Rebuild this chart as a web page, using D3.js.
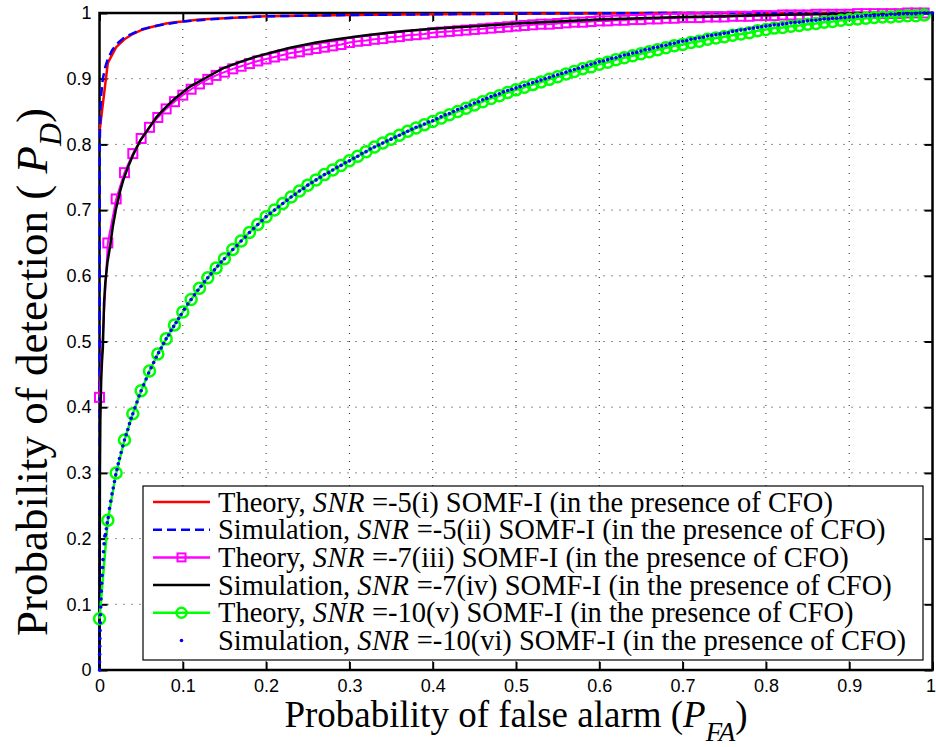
<!DOCTYPE html>
<html>
<head>
<meta charset="utf-8">
<script src="https://cdn.jsdelivr.net/npm/d3@7"></script>
<style>
  body { margin: 0; background: #fff; }
  .tick text { font-family: "Liberation Sans", Arial, sans-serif; font-size: 18px; fill: #000; }
  .lbl { font-family: "Liberation Serif", "Times New Roman", serif; fill: #000; }
</style>
</head>
<body>
<svg id="chart" width="936" height="747"></svg>
<script>
// axis ticks
const tickValues = [0, 0.1, 0.2, 0.3, 0.4, 0.5, 0.6, 0.7, 0.8, 0.9, 1];

// theory curves are evaluated on PFA = 0, 0.01, ... 0.99
const theoryPfa = d3.range(0, 100).map(i => i / 100);

// SNR = -7 theory (magenta squares)
const theory7 = [
  0.415, 0.650, 0.717, 0.757, 0.786, 0.809, 0.826, 0.841, 0.854, 0.865,
  0.875, 0.884, 0.892, 0.899, 0.905, 0.910, 0.915, 0.919, 0.923, 0.927,
  0.930, 0.933, 0.936, 0.939, 0.941, 0.944, 0.946, 0.948, 0.950, 0.952,
  0.955, 0.957, 0.958, 0.960, 0.961, 0.963, 0.964, 0.966, 0.967, 0.968,
  0.970, 0.971, 0.972, 0.973, 0.974, 0.975, 0.976, 0.977, 0.978, 0.979,
  0.980, 0.981, 0.982, 0.983, 0.983, 0.984, 0.985, 0.986, 0.986, 0.987,
  0.988, 0.988, 0.989, 0.989, 0.990, 0.990, 0.991, 0.991, 0.992, 0.992,
  0.993, 0.993, 0.993, 0.994, 0.994, 0.994, 0.995, 0.995, 0.995, 0.996,
  0.996, 0.996, 0.997, 0.997, 0.997, 0.997, 0.998, 0.998, 0.998, 0.998,
  0.998, 0.999, 0.999, 0.999, 0.999, 0.999, 0.999, 1.000, 1.000, 1.000
];

// SNR = -10 theory (green circles)
const theory10 = [
  0.078, 0.228, 0.300, 0.350, 0.390, 0.425, 0.455, 0.481, 0.504, 0.525,
  0.545, 0.564, 0.581, 0.597, 0.612, 0.626, 0.640, 0.653, 0.666, 0.678,
  0.690, 0.700, 0.710, 0.720, 0.729, 0.738, 0.746, 0.754, 0.761, 0.768,
  0.775, 0.782, 0.789, 0.796, 0.802, 0.808, 0.814, 0.820, 0.825, 0.830,
  0.835, 0.840, 0.845, 0.850, 0.855, 0.860, 0.865, 0.870, 0.874, 0.879,
  0.883, 0.887, 0.891, 0.895, 0.899, 0.903, 0.907, 0.911, 0.915, 0.918,
  0.922, 0.925, 0.929, 0.932, 0.935, 0.938, 0.941, 0.944, 0.947, 0.950,
  0.952, 0.955, 0.957, 0.960, 0.962, 0.964, 0.966, 0.968, 0.970, 0.973,
  0.975, 0.977, 0.978, 0.980, 0.981, 0.983, 0.984, 0.986, 0.987, 0.989,
  0.990, 0.991, 0.992, 0.993, 0.994, 0.994, 0.995, 0.996, 0.996, 0.997
];

// SNR = -5 theory (red) [PFA, PD]
const theory5 = [
  [0, 0.819], [0.01, 0.924], [0.02, 0.948], [0.03, 0.960], [0.04, 0.968],
  [0.05, 0.974], [0.06, 0.978], [0.07, 0.981], [0.08, 0.984], [0.09, 0.986],
  [0.10, 0.987], [0.12, 0.990], [0.15, 0.992], [0.20, 0.995], [0.30, 0.997],
  [0.40, 0.998], [0.50, 0.999], [0.70, 1.000], [0.99, 1.000]
];

// SNR = -5 simulation (blue dashed) [PFA, PD]
const sim5 = [
  [0, 0], [0.0003, 0.800], [0.001, 0.845], [0.002, 0.875], [0.004, 0.900],
  [0.007, 0.918], [0.01, 0.930], [0.015, 0.943], [0.02, 0.952], [0.03, 0.963],
  [0.05, 0.975], [0.07, 0.981], [0.10, 0.987], [0.15, 0.992], [0.20, 0.995],
  [0.30, 0.997], [0.50, 0.999], [0.70, 1.000], [1.00, 1.000]
];

// SNR = -7 simulation (black) [PFA, PD]
const sim7 = [
  [0, 0], [0.0005, 0.30], [0.001, 0.38], [0.002, 0.44], [0.003, 0.47],
  [0.004, 0.49], [0.0055, 0.56], [0.007, 0.59], [0.0095, 0.62], [0.0126, 0.644],
  [0.016, 0.675], [0.02, 0.703], [0.025, 0.730], [0.0286, 0.746], [0.035, 0.768],
  [0.04, 0.783], [0.0486, 0.805], [0.06, 0.826], [0.0687, 0.842], [0.08, 0.857],
  [0.09, 0.869], [0.1086, 0.888], [0.13, 0.903], [0.1486, 0.916], [0.17, 0.926],
  [0.189, 0.934], [0.21, 0.941], [0.229, 0.947], [0.26, 0.955], [0.285, 0.960],
  [0.32, 0.966], [0.36, 0.972], [0.40, 0.976], [0.45, 0.980], [0.50, 0.984],
  [0.55, 0.987], [0.60, 0.990], [0.65, 0.992], [0.70, 0.994], [0.75, 0.995],
  [0.80, 0.997], [0.85, 0.998], [0.90, 0.999], [0.95, 0.9995], [1.00, 1.000]
];

// SNR = -10 simulation (blue dots) [PFA, PD]
const sim10 = [
  [0, 0], [0.0001, 0.012], [0.0002, 0.024], [0.0003, 0.036], [0.0005, 0.048],
  [0.0007, 0.060], [0.0009, 0.072], [0.0012, 0.084], [0.0015, 0.096], [0.0018, 0.108],
  [0.0022, 0.120], [0.0026, 0.132], [0.0031, 0.144], [0.0036, 0.156], [0.0042, 0.168],
  [0.0048, 0.180], [0.0055, 0.192], [0.0063, 0.204], [0.0072, 0.206], [0.0082, 0.215],
  [0.0093, 0.224], [0.0105, 0.232], [0.012, 0.246], [0.0135, 0.257], [0.015, 0.268],
  [0.0165, 0.277], [0.018, 0.287], [0.0195, 0.297], [0.021, 0.305], [0.0225, 0.314],
  [0.024, 0.322], [0.026, 0.331], [0.028, 0.341], [0.030, 0.350], [0.032, 0.358],
  [0.034, 0.366], [0.036, 0.375], [0.038, 0.383], [0.040, 0.390], [0.0425, 0.399],
  [0.045, 0.408], [0.0475, 0.417], [0.050, 0.425], [0.053, 0.434], [0.056, 0.443],
  [0.059, 0.452], [0.062, 0.460], [0.065, 0.468], [0.068, 0.476], [0.071, 0.483],
  [0.074, 0.490], [0.077, 0.497], [0.080, 0.504], [0.083, 0.510], [0.086, 0.517],
  [0.089, 0.523], [0.092, 0.529], [0.095, 0.535], [0.098, 0.541], [0.102, 0.549],
  [0.106, 0.557], [0.110, 0.564], [0.114, 0.571], [0.118, 0.578], [0.122, 0.584],
  [0.126, 0.591], [0.130, 0.597], [0.134, 0.603], [0.138, 0.609], [0.142, 0.615],
  [0.146, 0.621], [0.150, 0.626], [0.155, 0.633], [0.160, 0.640], [0.165, 0.646],
  [0.170, 0.653], [0.175, 0.659], [0.180, 0.666], [0.185, 0.672], [0.190, 0.678],
  [0.195, 0.684], [0.200, 0.690], [0.205, 0.695], [0.210, 0.700], [0.215, 0.705],
  [0.220, 0.710], [0.225, 0.715], [0.230, 0.720], [0.235, 0.724], [0.240, 0.729],
  [0.245, 0.733], [0.250, 0.738], [0.255, 0.742], [0.260, 0.746], [0.265, 0.750],
  [0.270, 0.754], [0.275, 0.757], [0.280, 0.761], [0.285, 0.765], [0.290, 0.768],
  [0.295, 0.772], [0.300, 0.775], [0.305, 0.779], [0.310, 0.782], [0.315, 0.786],
  [0.320, 0.789], [0.325, 0.793], [0.330, 0.796], [0.335, 0.799], [0.340, 0.802],
  [0.345, 0.805], [0.350, 0.808], [0.355, 0.811], [0.360, 0.814], [0.365, 0.817],
  [0.370, 0.820], [0.375, 0.823], [0.380, 0.826], [0.385, 0.828], [0.390, 0.831],
  [0.395, 0.834], [0.400, 0.836], [0.405, 0.839], [0.410, 0.842], [0.415, 0.845],
  [0.420, 0.847], [0.425, 0.850], [0.430, 0.853], [0.435, 0.855], [0.440, 0.858],
  [0.445, 0.860], [0.450, 0.863], [0.455, 0.865], [0.460, 0.868], [0.465, 0.870],
  [0.470, 0.873], [0.475, 0.875], [0.480, 0.877], [0.485, 0.880], [0.490, 0.882],
  [0.495, 0.884], [0.500, 0.886], [0.505, 0.888], [0.510, 0.890], [0.515, 0.892],
  [0.520, 0.894], [0.525, 0.896], [0.530, 0.898], [0.535, 0.900], [0.540, 0.902],
  [0.545, 0.904], [0.550, 0.906], [0.555, 0.908], [0.560, 0.910], [0.565, 0.912],
  [0.570, 0.914], [0.575, 0.916], [0.580, 0.918], [0.585, 0.920], [0.590, 0.922],
  [0.595, 0.924], [0.600, 0.926], [0.605, 0.927], [0.610, 0.929], [0.615, 0.931],
  [0.620, 0.932], [0.625, 0.934], [0.630, 0.936], [0.635, 0.937], [0.640, 0.939],
  [0.645, 0.940], [0.650, 0.942], [0.655, 0.944], [0.660, 0.945], [0.665, 0.947],
  [0.670, 0.948], [0.675, 0.950], [0.680, 0.951], [0.685, 0.953], [0.690, 0.954],
  [0.695, 0.956], [0.700, 0.957], [0.705, 0.958], [0.710, 0.960], [0.715, 0.961],
  [0.720, 0.962], [0.725, 0.963], [0.730, 0.965], [0.735, 0.966], [0.740, 0.967],
  [0.745, 0.968], [0.750, 0.969], [0.755, 0.970], [0.760, 0.972], [0.765, 0.973],
  [0.770, 0.974], [0.775, 0.975], [0.780, 0.976], [0.785, 0.977], [0.790, 0.978],
  [0.795, 0.979], [0.800, 0.980], [0.805, 0.981], [0.810, 0.982], [0.815, 0.982],
  [0.820, 0.983], [0.825, 0.984], [0.830, 0.985], [0.835, 0.986], [0.840, 0.986],
  [0.845, 0.987], [0.850, 0.988], [0.855, 0.989], [0.860, 0.989], [0.865, 0.990],
  [0.870, 0.991], [0.875, 0.991], [0.880, 0.992], [0.885, 0.992], [0.890, 0.993],
  [0.895, 0.993], [0.900, 0.994], [0.905, 0.994], [0.910, 0.995], [0.915, 0.995],
  [0.920, 0.996], [0.925, 0.996], [0.930, 0.996], [0.935, 0.997], [0.940, 0.997],
  [0.945, 0.997], [0.950, 0.998], [0.955, 0.998], [0.960, 0.998], [0.965, 0.999],
  [0.970, 0.999], [0.975, 0.999], [0.980, 0.999], [0.985, 1.000], [0.990, 1.000],
  [0.995, 1.000], [1.000, 1.000]
];

// legend text pieces
const legendKind = ["Theory, ", "Simulation, ", "Theory, ", "Simulation, ", "Theory, ", "Simulation, "];
const legendSnr = ["-5", "-5", "-7", "-7", "-10", "-10"];
const legendTag = ["(i)", "(ii)", "(iii)", "(iv)", "(v)", "(vi)"];
const legendTail = " SOMF-I (in the presence of CFO)";

const svg = d3.select('#chart');
const plot = { left: 99.5, right: 932.5, top: 13, bottom: 670 };

const x = d3.scaleLinear().domain([0, 1]).range([plot.left, plot.right]);
const y = d3.scaleLinear().domain([0, 1]).range([plot.bottom, plot.top]);

svg.append('rect').attr('width', 936).attr('height', 747).attr('fill', '#fff');

// dotted grid
const inner = tickValues.slice(1, -1);
svg.append('g').selectAll('line.gx').data(inner).enter().append('line')
  .attr('x1', d => x(d)).attr('x2', d => x(d))
  .attr('y1', plot.top).attr('y2', plot.bottom)
  .attr('stroke', '#222').attr('stroke-width', 1).attr('stroke-dasharray', '1,7');
svg.append('g').selectAll('line.gy').data(inner).enter().append('line')
  .attr('y1', d => y(d)).attr('y2', d => y(d))
  .attr('x1', plot.left).attr('x2', plot.right)
  .attr('stroke', '#222').attr('stroke-width', 1).attr('stroke-dasharray', '1,7');

const fmt = d => (d === 0 ? '0' : d === 1 ? '1' : d3.format('.1f')(d));

// axes, ticks pointing inward on all four sides
const gx = svg.append('g').attr('transform', `translate(0, ${plot.bottom})`)
  .call(d3.axisBottom(x).tickValues(tickValues).tickSizeInner(-8).tickSizeOuter(0).tickPadding(9).tickFormat(fmt));
const gy = svg.append('g').attr('transform', `translate(${plot.left}, 0)`)
  .call(d3.axisLeft(y).tickValues(tickValues).tickSizeInner(-8).tickSizeOuter(0).tickPadding(8).tickFormat(fmt));
const gt = svg.append('g').attr('transform', `translate(0, ${plot.top})`)
  .call(d3.axisTop(x).tickValues(tickValues).tickSizeInner(-8).tickSizeOuter(0).tickFormat(''));
const gr = svg.append('g').attr('transform', `translate(${plot.right}, 0)`)
  .call(d3.axisRight(y).tickValues(tickValues).tickSizeInner(-8).tickSizeOuter(0).tickFormat(''));
[gx, gy, gt, gr].forEach(g => {
  g.select('.domain').remove();
  g.selectAll('.tick line').attr('stroke', '#000').attr('stroke-width', 2);
});
// keep the last x label inside the picture
gx.selectAll('.tick text').filter(d => d === 1).attr('text-anchor', 'end').attr('dx', 3);

svg.append('rect')
  .attr('x', plot.left).attr('y', plot.top)
  .attr('width', plot.right - plot.left).attr('height', plot.bottom - plot.top)
  .attr('fill', 'none').attr('stroke', '#000').attr('stroke-width', 2.5);

const line = d3.line().x(d => x(d[0])).y(d => y(d[1]));
const curves = svg.append('g');

const t7 = theoryPfa.map((p, i) => [p, theory7[i]]);
const t10 = theoryPfa.map((p, i) => [p, theory10[i]]);

curves.append('path').datum(theory5).attr('d', line)
  .attr('fill', 'none').attr('stroke', '#ff0000').attr('stroke-width', 2.5);
curves.append('path').datum(sim5).attr('d', line)
  .attr('fill', 'none').attr('stroke', '#0000ff').attr('stroke-width', 2.5).attr('stroke-dasharray', '9,5');
curves.append('path').datum(t7).attr('d', line)
  .attr('fill', 'none').attr('stroke', '#ff00ff').attr('stroke-width', 2);
curves.append('g').selectAll('rect').data(t7).enter().append('rect')
  .attr('x', d => x(d[0]) - 4.5).attr('y', d => y(d[1]) - 4.5)
  .attr('width', 9).attr('height', 9)
  .attr('fill', 'none').attr('stroke', '#ff00ff').attr('stroke-width', 2);
curves.append('path').datum(sim7).attr('d', line)
  .attr('fill', 'none').attr('stroke', '#000').attr('stroke-width', 2.5);
curves.append('path').datum(t10).attr('d', line)
  .attr('fill', 'none').attr('stroke', '#00ff00').attr('stroke-width', 2.5);
curves.append('g').selectAll('circle').data(t10).enter().append('circle')
  .attr('cx', d => x(d[0])).attr('cy', d => y(d[1])).attr('r', 5.5)
  .attr('fill', 'none').attr('stroke', '#00ff00').attr('stroke-width', 2.5);
curves.append('g').selectAll('circle').data(sim10).enter().append('circle')
  .attr('cx', d => x(d[0])).attr('cy', d => y(d[1])).attr('r', 1.8)
  .attr('fill', '#0000ff');

// legend
const lg = svg.append('g');
lg.append('rect').attr('x', 143).attr('y', 486).attr('width', 780).attr('height', 174)
  .attr('fill', '#fff').attr('stroke', '#000').attr('stroke-width', 1.2);

const styles = [
  { color: '#ff0000', dash: null, marker: null, show: true },
  { color: '#0000ff', dash: '9,5', marker: null, show: true },
  { color: '#ff00ff', dash: null, marker: 'square', show: true },
  { color: '#000000', dash: null, marker: null, show: true },
  { color: '#00ff00', dash: null, marker: 'circle', show: true },
  { color: '#0000ff', dash: null, marker: 'dot', show: false }
];

legendKind.forEach((kind, i) => {
  const cy = 502 + i * 27.7;
  const s = styles[i];
  if (s.show) {
    lg.append('line').attr('x1', 153).attr('x2', 210).attr('y1', cy).attr('y2', cy)
      .attr('stroke', s.color).attr('stroke-width', 2.5)
      .attr('stroke-dasharray', s.dash);
  }
  if (s.marker === 'square') {
    lg.append('rect').attr('x', 181.5 - 4).attr('y', cy - 4).attr('width', 8).attr('height', 8)
      .attr('fill', 'none').attr('stroke', s.color).attr('stroke-width', 2);
  } else if (s.marker === 'circle') {
    lg.append('circle').attr('cx', 181.5).attr('cy', cy).attr('r', 5)
      .attr('fill', 'none').attr('stroke', s.color).attr('stroke-width', 2.5);
  } else if (s.marker === 'dot') {
    lg.append('circle').attr('cx', 181.5).attr('cy', cy).attr('r', 1.8).attr('fill', s.color);
  }
  const t = lg.append('text').attr('class', 'lbl').attr('x', 218).attr('y', cy + 9.5)
    .attr('font-size', 28.5);
  t.append('tspan').text(kind);
  t.append('tspan').attr('font-style', 'italic').attr('letter-spacing', 0.5).text('SNR');
  t.append('tspan').text(' =' + legendSnr[i] + legendTag[i] + legendTail);
});

// axis labels
const xl = svg.append('text').attr('class', 'lbl').attr('x', (plot.left + plot.right) / 2).attr('y', 727)
  .attr('text-anchor', 'middle').attr('font-size', 37);
xl.append('tspan').text('Probability of false alarm (');
xl.append('tspan').attr('font-style', 'italic').text('P');
xl.append('tspan').attr('font-style', 'italic').attr('font-size', 27).attr('dy', 14).text('FA');
xl.append('tspan').attr('dy', -14).text(')');

const yl = svg.append('text').attr('class', 'lbl')
  .attr('transform', 'translate(47, 372) rotate(-90)')
  .attr('text-anchor', 'middle').attr('font-size', 45);
yl.append('tspan').text('Probability of detection ( ');
yl.append('tspan').attr('font-style', 'italic').text('P');
yl.append('tspan').attr('font-style', 'italic').attr('font-size', 32).attr('dy', 14).text('D');
yl.append('tspan').attr('dy', -14).text(')');
</script>
</body>
</html>
